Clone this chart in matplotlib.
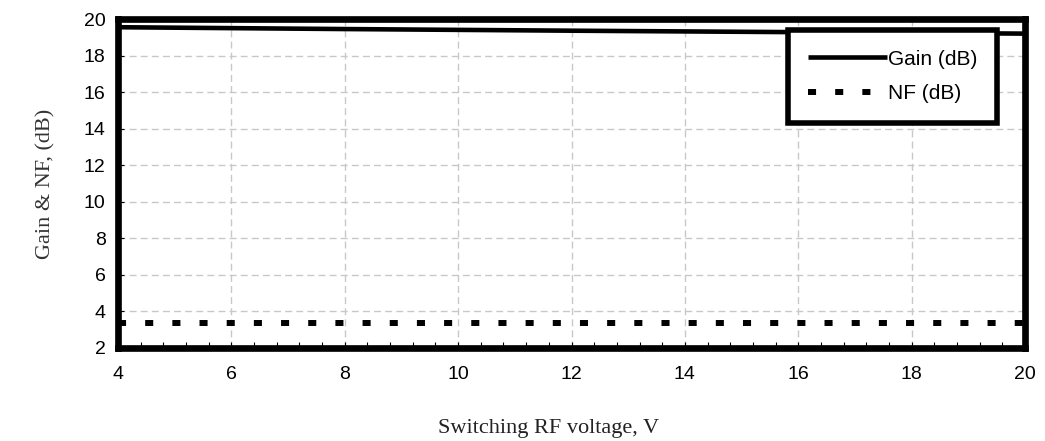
import matplotlib
matplotlib.use("Agg")
import matplotlib.pyplot as plt
from matplotlib.ticker import MultipleLocator

voltage = [4, 8, 12, 16, 20]
gain_db = [19.55, 19.45, 19.36, 19.28, 19.2]
nf_db = [3.35, 3.35, 3.35, 3.35, 3.35]
x_ticks = [4, 6, 8, 10, 12, 14, 16, 18, 20]
y_ticks = [2, 4, 6, 8, 10, 12, 14, 16, 18, 20]

fig = plt.figure(figsize=(10.45, 4.41), dpi=100)
ax = fig.add_axes([118/1045, 1-348/441, (1025-118)/1045, (348-19)/441])

ax.plot(voltage, gain_db, color='black', lw=3.3, label='Gain (dB)', solid_capstyle='butt')
ax.plot(voltage, nf_db, color='black', lw=4.3, dashes=(1.35, 3.2), label='NF (dB)')

ax.set_xlim(4, 20)
ax.set_ylim(2, 20)
ax.set_xticks(x_ticks)
ax.set_yticks(y_ticks)
ax.xaxis.set_minor_locator(MultipleLocator(0.4))
ax.grid(True, which='major', color='#c8c8c8', linestyle=(0, (5, 3)), lw=1)
ax.set_axisbelow(True)

for s in ax.spines.values():
    s.set_linewidth(4.8)
    s.set_capstyle('projecting')

ax.tick_params(axis='both', which='major', direction='in', length=4, width=0.8,
               labelsize=14, colors='black')
ax.tick_params(axis='x', which='major', pad=13)
ax.tick_params(axis='y', which='major', pad=9)
ax.tick_params(axis='x', which='minor', direction='in', length=4, width=0.8)
for lab in ax.get_xticklabels() + ax.get_yticklabels():
    lab.set_family('Liberation Sans')

ax.set_ylabel('Gain & NF, (dB)', family='Liberation Serif', fontsize=16, labelpad=20, color='#333333')
ax.set_xlabel('Switching RF voltage, V', family='Liberation Serif', fontsize=16, color='#222222')
ax.xaxis.set_label_coords(0.475, -0.215)

leg = ax.legend(loc='upper right', bbox_to_anchor=(0.969, 0.967), frameon=True,
                fancybox=False, prop={'family': 'Liberation Sans', 'size': 15},
                handlelength=3.8, handletextpad=0.05, borderpad=0.95, labelspacing=0.75,
                borderaxespad=0, framealpha=1)
leg.get_frame().set_edgecolor('black')
leg.get_frame().set_linewidth(4.0)

fig.savefig('out.png', dpi=100)
